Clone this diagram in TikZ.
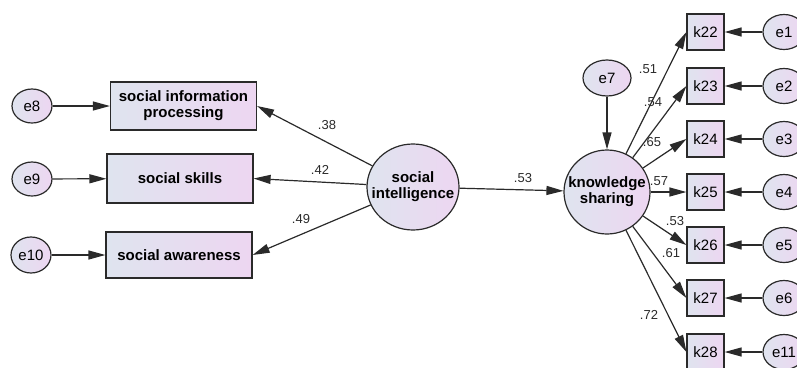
\documentclass[tikz,border=0pt]{standalone}
\usepackage{fontspec}
\setmainfont{Liberation Sans}
\usetikzlibrary{shapes.geometric,arrows.meta}
\definecolor{fillA}{HTML}{DFE4EF}
\definecolor{fillB}{HTML}{EDD6F1}
\definecolor{lineC}{HTML}{2A2A2A}
\tikzset{
  shaded/.style={left color=fillA, right color=fillB, draw=lineC, line width=1.2pt},
  errnode/.style={shaded, ellipse, inner sep=0pt, minimum width=40pt, minimum height=34pt,
    font=\fontsize{15}{16}\selectfont},
  latent/.style={shaded, ellipse, inner sep=0pt},
  latenttext/.style={align=center, inner sep=0pt, font=\fontsize{15}{16}\selectfont\bfseries},
  obsbox/.style={shaded, rectangle, inner sep=0pt, align=center, minimum width=146pt,
    font=\fontsize{15}{16}\selectfont\bfseries},
  kbox/.style={shaded, rectangle, inner sep=0pt, minimum width=37pt, minimum height=36pt,
    font=\fontsize{15}{16}\selectfont},
  arr/.style={draw=lineC, line width=1.2pt, -{Triangle[length=17pt,width=9pt]}},
  coef/.style={font=\fontsize{13}{14}\selectfont, text=lineC, inner sep=0pt}
}
\begin{document}
\begin{tikzpicture}[x=1pt,y=-1pt]
\path[use as bounding box] (0,0) rectangle (797,367);
\clip (0,0) rectangle (797,367);
% left side
\node[errnode] (e8) at (32,106) {e8};
\node[errnode] (e9) at (32,179) {e9};
\node[errnode, minimum height=36pt] (e10) at (31,255) {e10};
\node[obsbox, minimum height=48pt] (b1) at (183.5,106) {social information\\processing};
\node[obsbox, minimum height=49pt] (b2) at (180,178.5) {social skills};
\node[obsbox, minimum height=46pt] (b3) at (179,255) {social awareness};
\node[latent, minimum width=92pt, minimum height=86pt] (si) at (413,187) {};
\node[latenttext] (sit) at (413,187) {social\\intelligence};
% right side
\node[latent, minimum width=86pt, minimum height=84pt] (ks) at (607,192) {};
\node[latenttext] (kst) at (607,192) {knowledge\\sharing};
\node[errnode, minimum width=48pt, minimum height=36pt] (e7) at (607,78) {e7};
\foreach \k/\e/\y in {22/1/32, 23/2/86, 24/3/139, 25/4/192, 26/5/245, 27/6/298, 28/11/352}{
  \node[kbox] (k\k) at (705.5,\y) {k\k};
  \node[errnode, minimum width=42pt, minimum height=35pt] (e\e) at (784,\y) {e\e};
  \draw[arr] (e\e) -- (k\k);
  \draw[arr] (ks) -- (k\k.west);
}
\draw[arr] (e8) -- (b1);
\draw[arr] (e9) -- (b2);
\draw[arr] (e10) -- (b3);
\draw[arr] (si) -- (b1.east);
\draw[arr] (si) -- (b2.east);
\draw[arr] (si) -- (b3.east);
\draw[arr] (si) -- (ks);
\draw[arr] (e7) -- (ks);
% coefficients
\node[coef] (c1) at (327,125) {.38};
\node[coef] (c2) at (320,170) {.42};
\node[coef] (c3) at (301,219) {.49};
\node[coef] (c4) at (523,178) {.53};
\node[coef] (c5) at (648,69) {.51};
\node[coef] (c6) at (653,102) {.54};
\node[coef] (c7) at (652,142) {.65};
\node[coef] (c8) at (659,181) {.57};
\node[coef] (c9) at (675,221) {.53};
\node[coef] (c10) at (671,253) {.61};
\node[coef] (c11) at (649,315) {.72};
\end{tikzpicture}
\end{document}
